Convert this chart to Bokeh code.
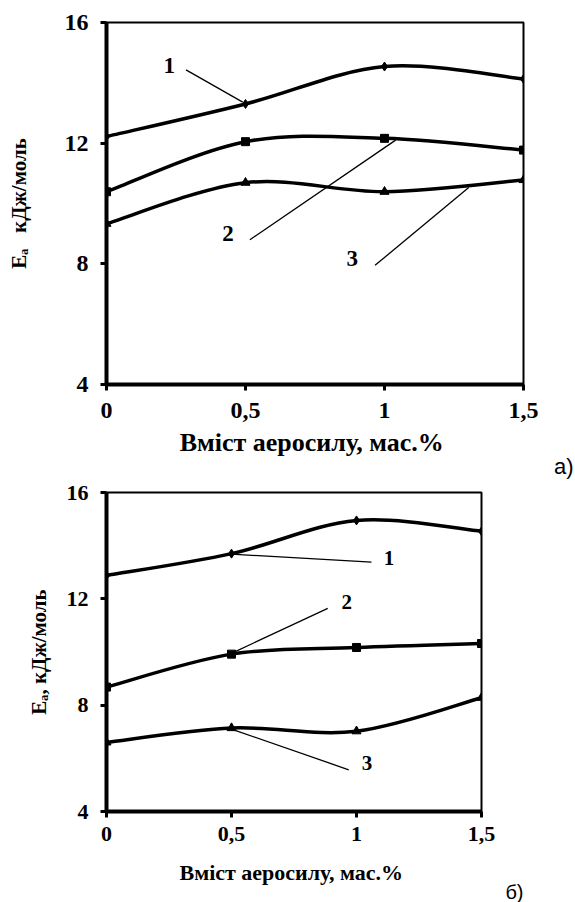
import numpy as np
from bokeh.plotting import figure
from bokeh.models import Range1d, FixedTicker, Title
from bokeh.core.properties import value
from bokeh.embed import file_html
from bokeh.resources import INLINE

# ---------------- data ----------------
x_values = [0, 0.5, 1, 1.5]
x_tick_labels = ["0", "0,5", "1", "1,5"]
y_ticks = [4, 8, 12, 16]

# panel a)
a_series1 = [12.22, 13.30, 14.54, 14.13]
a_series2 = [10.39, 12.05, 12.16, 11.77]
a_series3 = [9.33, 10.69, 10.39, 10.78]

# panel b)
b_series1 = [12.88, 13.70, 14.95, 14.54]
b_series2 = [8.68, 9.92, 10.17, 10.32]
b_series3 = [6.60, 7.14, 7.02, 8.28]

series_names = ["1", "2", "3"]
series_markers = ["diamond", "square", "triangle"]
x_title = "Вміст аеросилу,  мас.%"
y_title_a = "Eₐ\u00a0\u00a0\u00a0кДж/моль"
y_title_b = "Eₐ, кДж/моль"
panel_names = ["а)", "б)"]

# curve-number labels (x, y) and leader lines (start x, start y, end x, end y)
a_name_pos = [(0.226, 14.57), (0.437, 9.0), (0.884, 8.17)]
a_leaders = [(0.286, 14.43, 0.49, 13.36), (0.516, 8.8, 1.04, 12.1), (0.966, 7.95, 1.303, 10.53)]
b_name_pos = [(1.13, 13.54), (0.961, 11.87), (1.042, 5.82)]
b_leaders = [(1.06, 13.38, 0.5, 13.68), (0.885, 11.64, 0.5, 9.95), (0.969, 5.57, 0.5, 7.1)]

SERIF = "Liberation Serif"


def smooth(xs, ys):
    xs = np.asarray(xs, float)
    ys = np.asarray(ys, float)
    n = len(xs)
    xp = np.concatenate([[xs[0]], xs, [xs[-1]]])
    yp = np.concatenate([[ys[0]], ys, [ys[-1]]])
    cx0 = xs[:-1] + (xp[2:n + 1] - xp[0:n - 1]) / 6
    cy0 = ys[:-1] + (yp[2:n + 1] - yp[0:n - 1]) / 6
    cx1 = xs[1:] - (xp[3:n + 2] - xp[1:n]) / 6
    cy1 = ys[1:] - (yp[3:n + 2] - yp[1:n]) / 6
    return dict(x0=xs[:-1], y0=ys[:-1], x1=xs[1:], y1=ys[1:],
                cx0=cx0, cy0=cy0, cx1=cx1, cy1=cy1)


def make_panel(height, borders, series, name_pos, leaders, tick_size, title_size, ytitle_size,
               name_size, tick_standoff_x, title_standoff, y_title, y_standoff,
               panel_label, panel_offset, panel_standoff, panel_valign, panel_size):
    left, right, top, bottom = borders
    p = figure(width=575, height=height, x_range=Range1d(0, 1.5), y_range=Range1d(4, 16),
               output_backend="svg", toolbar_location=None,
               min_border_left=left, min_border_right=right,
               min_border_top=top, min_border_bottom=bottom)
    p.grid.visible = False
    p.outline_line_color = "black"
    p.outline_line_width = 2
    p.background_fill_color = "white"
    p.border_fill_color = "white"

    p.xaxis.ticker = FixedTicker(ticks=x_values)
    p.xaxis.major_label_overrides = {v: s for v, s in zip(x_values, x_tick_labels)}
    p.yaxis.ticker = FixedTicker(ticks=y_ticks)
    for ax in (p.xaxis, p.yaxis):
        ax.axis_line_width = 4
        ax.axis_line_color = "black"
        ax.major_tick_line_width = 3
        ax.major_tick_out = 6
        ax.major_tick_in = 0
        ax.minor_tick_line_color = None
        ax.major_label_text_font = SERIF
        ax.major_label_text_font_style = "bold"
        ax.major_label_text_font_size = f"{tick_size}px"
        ax.major_label_text_color = "black"
        ax.axis_label_text_font = SERIF
        ax.axis_label_text_font_style = "bold"
        ax.axis_label_text_color = "black"
    p.xaxis.axis_label_text_font_size = f"{title_size}px"
    p.yaxis.axis_label_text_font_size = f"{ytitle_size}px"
    p.xaxis.major_label_standoff = tick_standoff_x
    p.yaxis.major_label_standoff = 12
    p.xaxis.axis_label = x_title
    p.xaxis.axis_label_standoff = title_standoff
    p.yaxis.axis_label = y_title
    p.yaxis.axis_label_standoff = y_standoff

    for ys, mk in zip(series, series_markers):
        p.bezier(source=smooth(x_values, ys), x0="x0", y0="y0", x1="x1", y1="y1",
                 cx0="cx0", cy0="cy0", cx1="cx1", cy1="cy1",
                 line_color="black", line_width=3.5)
        size = {"diamond": 9, "square": 8, "triangle": 9}[mk]
        p.scatter(x_values, ys, marker=mk, size=size, color="black")

    p.segment(x0=[l[0] for l in leaders], y0=[l[1] for l in leaders],
              x1=[l[2] for l in leaders], y1=[l[3] for l in leaders],
              line_color="black", line_width=1.3)
    p.text(x=[q[0] for q in name_pos], y=[q[1] for q in name_pos], text=series_names,
           text_font=value(SERIF), text_font_style="bold", text_font_size=f"{name_size}px",
           text_align="center", text_baseline="middle", text_color="black")

    p.add_layout(Title(text=panel_label, align="right", offset=panel_offset,
                       standoff=panel_standoff, vertical_align=panel_valign,
                       text_font="Liberation Sans", text_font_style="normal",
                       text_font_size=f"{panel_size}px", text_color="black"), "below")
    return p


p1 = make_panel(480, (106, 52, 22, 96), [a_series1, a_series2, a_series3],
                a_name_pos, a_leaders, 24, 26, 21, 23, 12, 7,
                y_title_a, 31, panel_names[0], -50, -15, "bottom", 22)
p2 = make_panel(422, (106, 94, 12, 91), [b_series1, b_series2, b_series3],
                b_name_pos, b_leaders, 22, 22, 21, 21, 9, 16,
                y_title_b, 13, panel_names[1], -42, -14, "top", 20)

open("out.html", "w").write(file_html([p1, p2], INLINE))
